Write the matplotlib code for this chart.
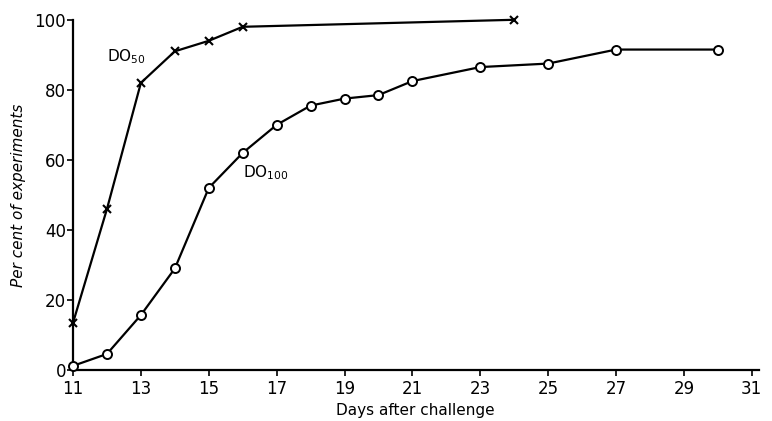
import matplotlib.pyplot as plt

# DO50 series (crosses)
do50_days = [11, 12, 13, 14, 15, 16, 24]
do50_pct = [13.5, 46, 82, 91, 94, 98, 100]

# DO100 series (open circles)
do100_days = [11, 12, 13, 14, 15, 16, 17, 18, 19, 20, 21, 23, 25, 27, 30]
do100_pct = [1.2, 4.6, 15.7, 29, 52, 62, 70, 75.5, 77.5, 78.5, 82.5, 86.5, 87.5, 91.5, 91.5]

xticks = list(range(11, 32, 2))
yticks = [0, 20, 40, 60, 80, 100]

fig = plt.figure(figsize=(7.72, 4.21), dpi=100)
ax = fig.add_axes([0.0946, 0.121, 0.888, 0.832])

ax.plot(do50_days, do50_pct, color="black", lw=1.6, marker="x", ms=6,
        mew=1.5, zorder=3, clip_on=False)
ax.plot(do100_days, do100_pct, color="black", lw=1.6, marker="o", ms=6.5,
        mfc="white", mec="black", mew=1.4, zorder=3, clip_on=False)

ax.text(12.0, 89.5, r"DO$_{50}$", fontsize=11, va="center", ha="left")
ax.text(16.0, 56.5, r"DO$_{100}$", fontsize=11, va="center", ha="left")

ax.set_xlim(11, 31.2)
ax.set_ylim(0, 100)
ax.set_xticks(xticks)
ax.set_yticks(yticks)
ax.tick_params(axis="both", labelsize=12, width=1.2, length=4)
ax.tick_params(axis="x", direction="out", pad=3)
ax.tick_params(axis="y", direction="out", pad=1)

for s in ("top", "right"):
    ax.spines[s].set_visible(False)
for s in ("left", "bottom"):
    ax.spines[s].set_linewidth(1.6)

ax.set_xlabel("Days after challenge", fontsize=11, labelpad=4)
ax.set_ylabel("Per cent of experiments", fontsize=11, style="italic",
              labelpad=6)

fig.savefig("out.png", dpi=100)
